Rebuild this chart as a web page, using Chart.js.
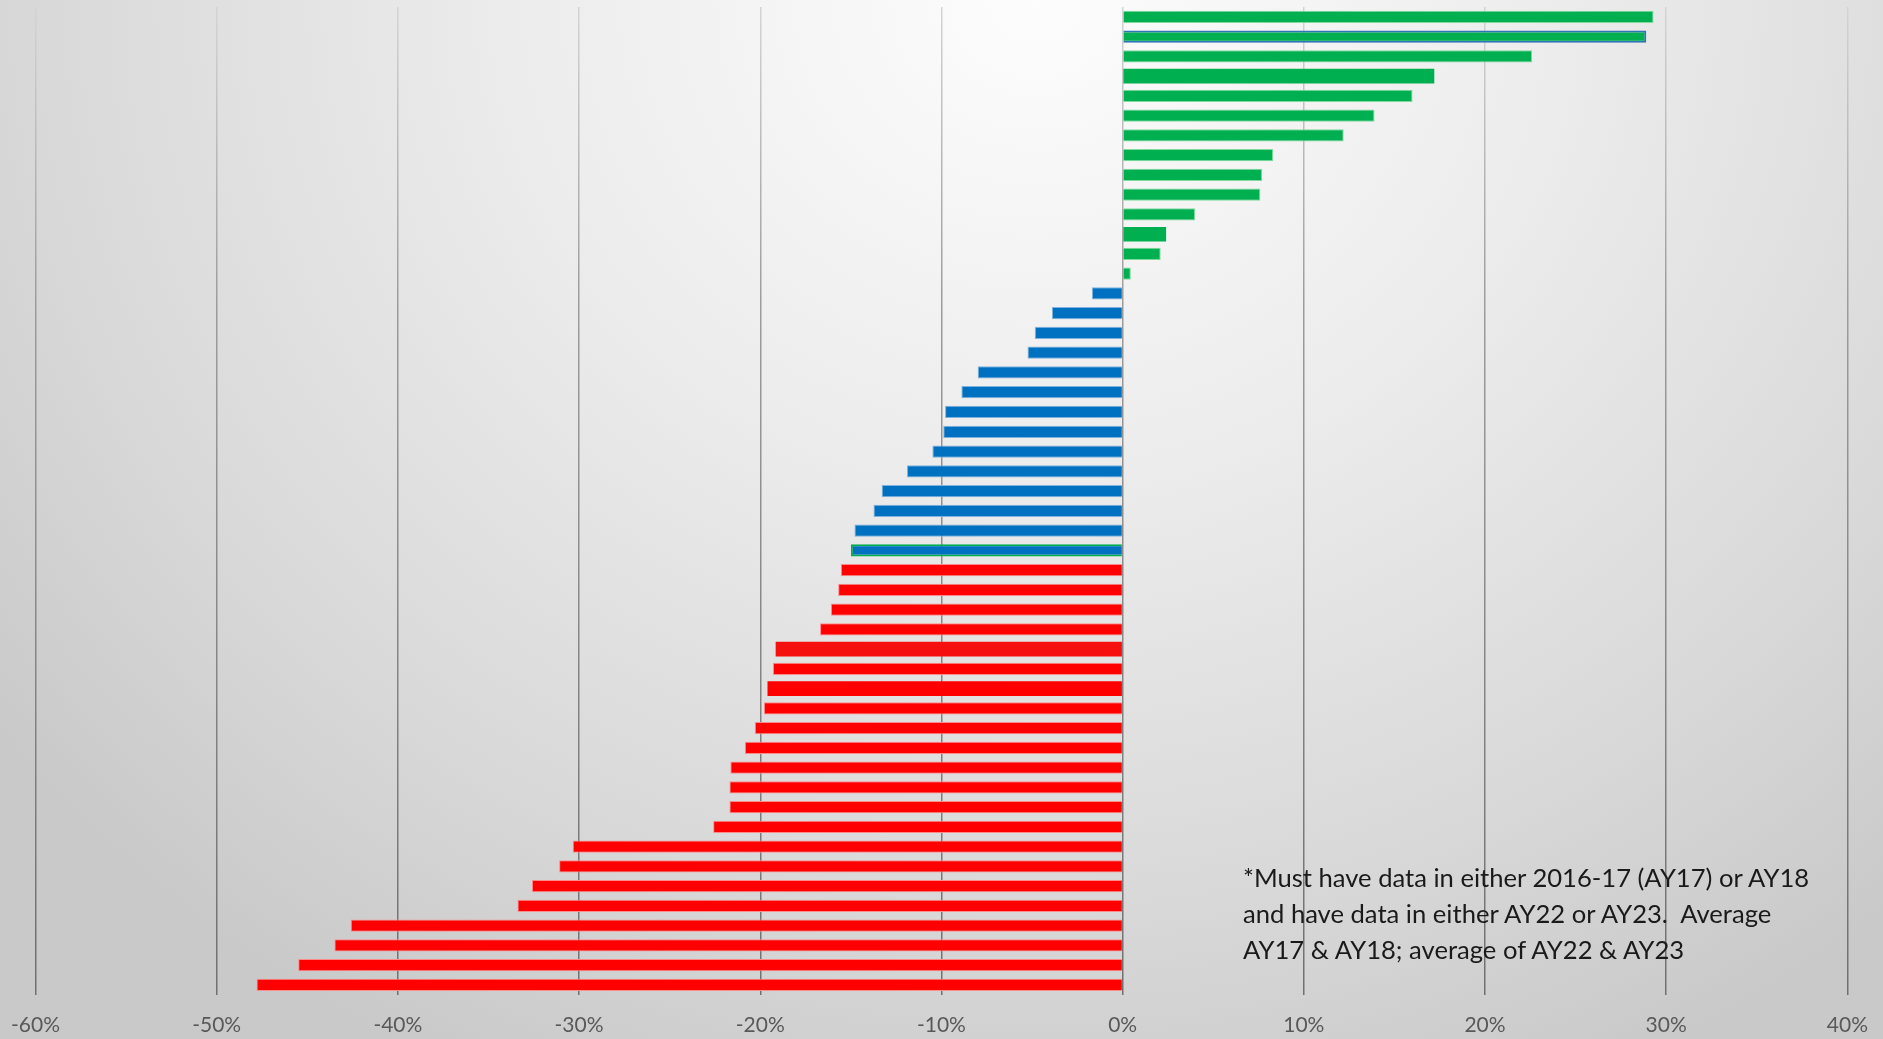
<!DOCTYPE html>
<html>
<head>
<meta charset="utf-8">
<script src="https://cdn.jsdelivr.net/npm/chart.js@4.4.1/dist/chart.umd.min.js"></script>
<style>
  html, body { margin: 0; padding: 0; }
  body { width: 1883px; height: 1039px; overflow: hidden; }
  .wrap {
    position: relative;
    width: 1883px;
    height: 1039px;
    overflow: hidden;
    background: radial-gradient(ellipse 70% 115% at 55% 0%, #fdfdfd 0%, #ececec 40%, #d9d9d9 75%, #c9c9c9 100%);
  }
  canvas { position: absolute; left: -7px; top: 0; }
  .note {
    position: absolute;
    left: 1243px;
    top: 859px;
    font-family: Lato, "Open Sans", sans-serif;
    font-size: 25.6px;
    line-height: 36px;
    color: #1a1a1a;
    white-space: nowrap;
  }
</style>
</head>
<body>
<div class="wrap">
  <canvas id="chart" width="1893" height="1056"></canvas>
  <div class="note">*Must have data in either 2016-17 (AY17) or AY18<br>and have data in either AY22 or AY23.&nbsp; Average<br>AY17 &amp; AY18; average of AY22 &amp; AY23</div>
</div>
<script>
// change in %, top bar first
const gains = [29.3, 28.9, 22.6, 17.2, 16.0, 13.9, 12.2, 8.3, 7.7, 7.6, 4.0, 2.4, 2.1, 0.45];
const smallLosses = [-1.7, -3.9, -4.85, -5.25, -8.0, -8.9, -9.8, -9.9, -10.5, -11.9, -13.3, -13.75, -14.8, -15.0];
const bigLosses = [-15.55, -15.7, -16.1, -16.7, -19.15, -19.3, -19.6, -19.8, -20.3, -20.85, -21.65, -21.7, -21.7, -22.6,
  -30.35, -31.1, -32.6, -33.4, -42.6, -43.5, -45.5, -47.8];

const xTicks = [-60, -50, -40, -30, -20, -10, 0, 10, 20, 30, 40];

// bars that came out thicker in the original
const wideBars = [3, 11, 32, 34];

const values = [...gains, ...smallLosses, ...bigLosses];
const categories = values.map((_, i) => "#" + (i + 1));

const fills = [
  ...gains.map(() => "#00b050"),
  ...smallLosses.map(() => "#0070c0"),
  ...bigLosses.map(() => "#ff0000"),
];
const edges = [
  ...gains.map(() => "#7ddb9c"),
  ...smallLosses.map(() => "#7fb2e0"),
  ...bigLosses.map(() => "#ff8a8a"),
];
edges[1] = "#2e75b6";
edges[gains.length + smallLosses.length - 1] = "#00b050";
const edgeWidths = values.map(() => 1);
edgeWidths[1] = 2;
edgeWidths[gains.length + smallLosses.length - 1] = 2;

const normalData = values.map((v, i) => (wideBars.includes(i) ? null : v));
const wideData = values.map((v, i) => (wideBars.includes(i) ? v : null));

function gridColor(ctx) {
  const chart = ctx.chart;
  const area = chart.chartArea;
  if (!area) return "#999999";
  const g = chart.ctx.createLinearGradient(0, area.top, 0, area.bottom);
  g.addColorStop(0, "#d4d4d4");
  g.addColorStop(0.3, "#9c9c9c");
  g.addColorStop(1, "#707070");
  return g;
}

new Chart(document.getElementById("chart"), {
  type: "bar",
  data: {
    labels: categories,
    datasets: [
      {
        data: normalData,
        backgroundColor: fills,
        borderColor: edges,
        borderWidth: edgeWidths,
        barPercentage: 0.62,
        categoryPercentage: 1,
        grouped: false,
      },
      {
        data: wideData,
        backgroundColor: fills.map((c, i) => (i === 32 ? "#f50f0f" : c)),
        borderWidth: 0,
        barPercentage: 0.74,
        categoryPercentage: 1,
        grouped: false,
      },
    ],
  },
  options: {
    indexAxis: "y",
    responsive: false,
    animation: false,
    layout: { padding: { left: 0, right: 14, top: 7, bottom: 0 } },
    plugins: {
      legend: { display: false },
      tooltip: { enabled: false },
    },
    scales: {
      x: {
        min: -60,
        max: 40,
        afterBuildTicks: (axis) => {
          axis.ticks = xTicks.map((v) => ({ value: v }));
        },
        ticks: {
          callback: (v) => v + "%",
          color: "#595959",
          padding: 18,
          font: { family: "Lato, 'Open Sans', sans-serif", size: 21 },
          maxRotation: 0,
        },
        grid: {
          color: gridColor,
          lineWidth: 1.5,
          drawTicks: false,
        },
        border: { display: false },
      },
      y: {
        display: false,
      },
    },
  },
});
</script>
</body>
</html>
